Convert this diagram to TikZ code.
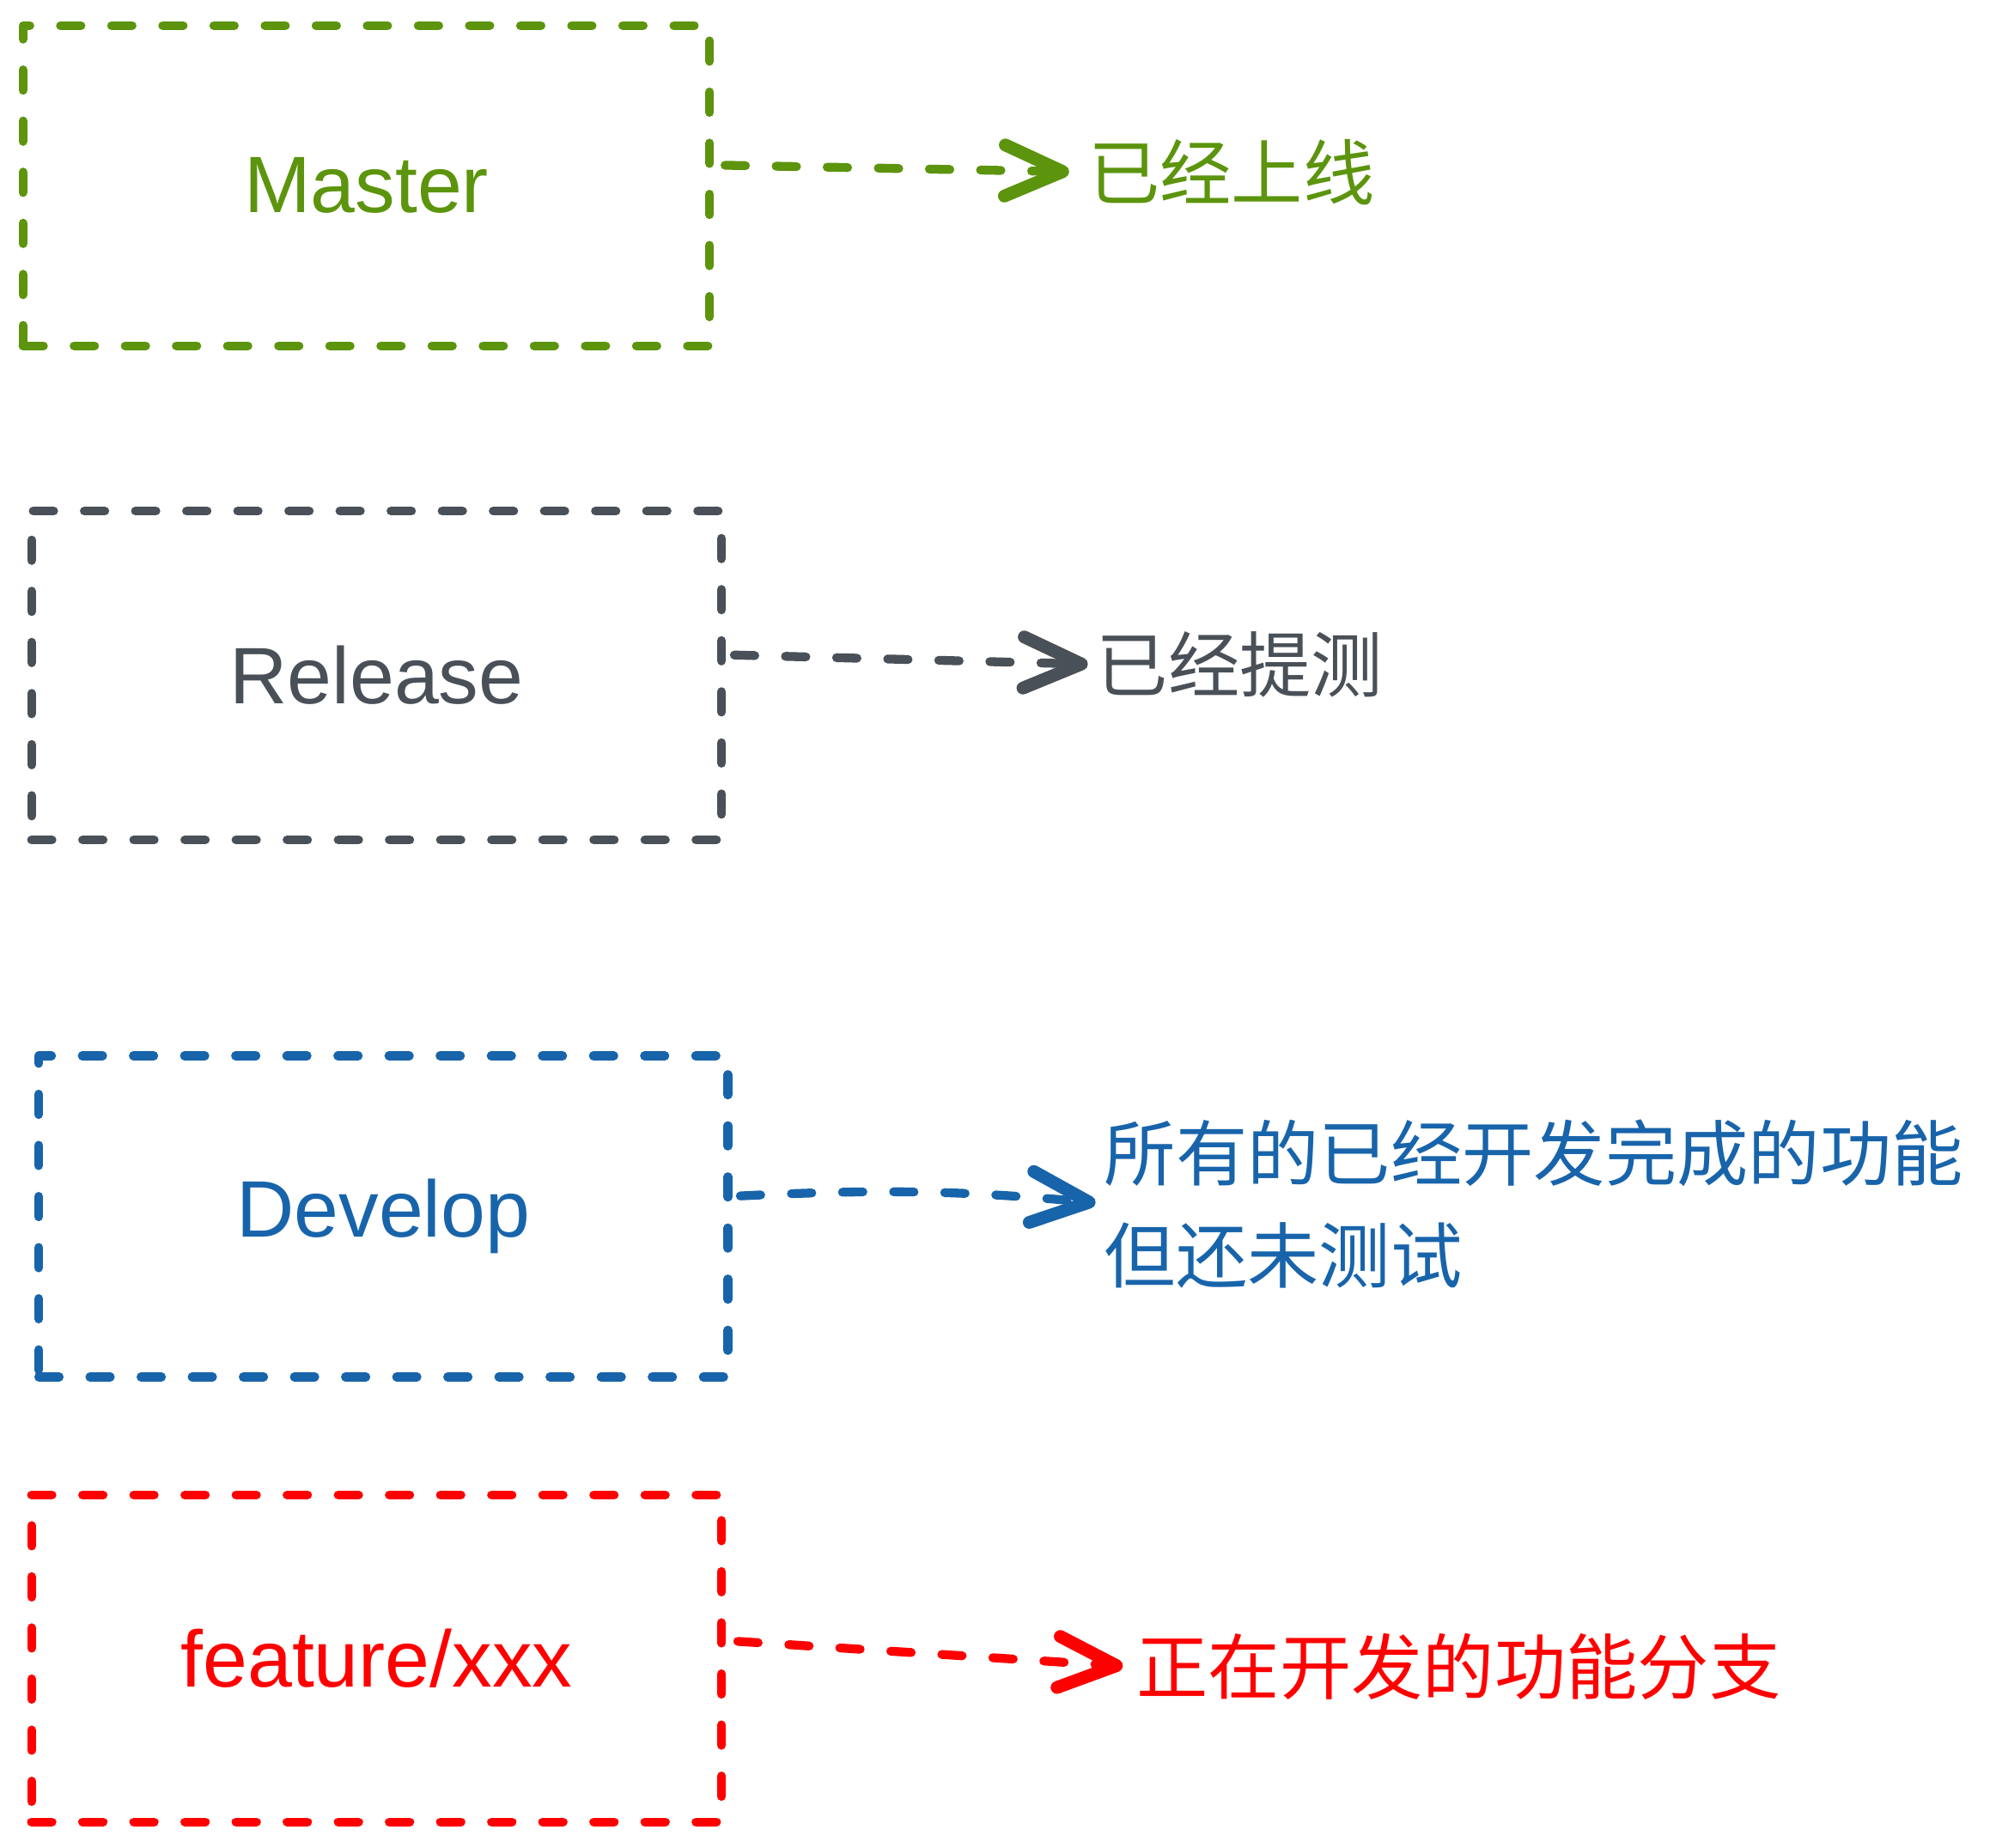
\documentclass[tikz,border=0pt]{standalone}
\usepackage{fontspec}
\setmainfont{Liberation Sans}
\newfontfamily\cjk{Noto Sans CJK SC}
\usetikzlibrary{arrows.meta}
\definecolor{cgreen}{HTML}{5C940D}
\definecolor{cgray}{HTML}{495057}
\definecolor{cblue}{HTML}{1864AB}
\definecolor{cred}{HTML}{FF0000}
\begin{document}
\begin{tikzpicture}[x=0.5pt,y=-0.5pt,
  branch/.style={draw=#1, text=#1, dash pattern=on 12pt off 18pt, line width=5.2pt,
    line cap=round, line join=round, inner sep=0pt,
    font=\fontsize{47}{56}\selectfont},
  lbl/.style={anchor=west, inner sep=0pt, text=#1, align=left,
    font=\cjk\fontsize{42}{60}\selectfont},
  conn/.style={draw=#1, dash pattern=on 12pt off 18pt, line width=5.2pt, line cap=round,
    -{Straight Barb[length=34pt,width=30pt,line width=7.5pt,round]}}
]
\useasboundingbox (0,0) rectangle (2343,2169);

% Master
\node[branch=cgreen, minimum width=403pt, minimum height=188pt] (m) at (430,218) {Master};
\coordinate (ms) at (851,194);
\node[lbl=cgreen] (ml) at (1277,202) {已经上线};
\draw[conn=cgreen, shorten >=11pt] (ms) -- (ml.west);

% Release
\node[branch=cgray, minimum width=405pt, minimum height=193pt] (r) at (442,793) {Release};
\coordinate (rs) at (862,769);
\node[lbl=cgray] (rl) at (1287,780) {已经提测};
\draw[conn=cgray, shorten >=5pt] (rs) -- (rl.west);

% Develop
\node[branch=cblue, minimum width=404.5pt, minimum height=188.5pt] (d) at (450,1428) {Develop};
\coordinate (ds) at (869,1404);
\node[lbl=cblue] (dl) at (1296,1413) {所有的已经开发完成的功能\\但还未测试};
\draw[conn=cblue, shorten >=5pt] (ds) to[bend left=4] (dl.west);

% feature
\node[branch=cred, minimum width=405pt, minimum height=192pt] (f) at (442,1947) {feature/xxx};
\coordinate (fs) at (866,1927);
\node[lbl=cred] (fl) at (1334,1957) {正在开发的功能分支};
\draw[conn=cred, shorten >=8pt] (fs) -- (fl.west);
\end{tikzpicture}
\end{document}
